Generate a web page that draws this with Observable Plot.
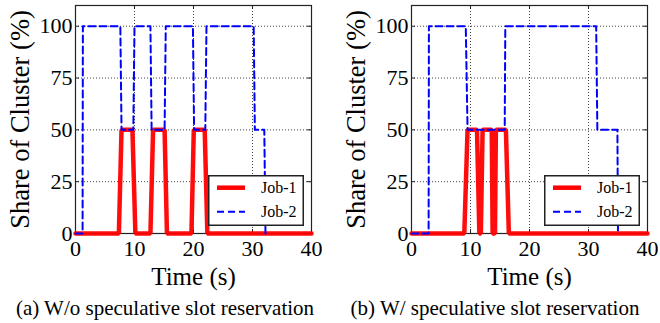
<!DOCTYPE html>
<html>
<head>
<meta charset="utf-8">
<script src="https://cdn.jsdelivr.net/npm/d3@7"></script>
<script src="https://cdn.jsdelivr.net/npm/@observablehq/plot@0.6"></script>
<style>
  html, body { margin: 0; padding: 0; background: #fff; }
  #root { position: relative; width: 660px; height: 323px; overflow: hidden; font-family: "Liberation Serif", "Times New Roman", serif; }
  .panel { position: absolute; top: 0; width: 330px; height: 323px; }
  .panel svg.plot { position: absolute; left: 0; top: 0; }
  .panel svg text { font-family: "Liberation Serif", "Times New Roman", serif; }
  .legend { position: absolute; top: 175px; }
  .caption { position: absolute; left: 0; width: 330px; top: 298px; text-align: center; font-size: 21px; line-height: 21px; color: #000; white-space: nowrap; }
</style>
</head>
<body>
<div id="root"></div>
<script>
// ---------- data ----------
const seriesNames = ["Job-1", "Job-2"];
const seriesColors = ["#ff0000", "#0000ff"];
const xTicks = [0, 10, 20, 30, 40];
const yTicks = [0, 25, 50, 75, 100];
const xGrid = [10, 20, 30];
const yGrid = [25, 50, 75, 100];
const xLabel = "Time (s)";
const yLabel = "Share of Cluster (%)";
const captions = ["(a) W/o speculative slot reservation", "(b) W/ speculative slot reservation"];

// (a) without speculative slot reservation
const aJob1Time  = [0, 7.35, 7.8, 9.65, 10.15, 12.7, 13.15, 15.1, 15.5, 19.65, 20.05, 21.9, 22.35, 40];
const aJob1Share = [0, 0,    50,  50,   0,     0,    50,    50,   0,    0,     50,    50,   0,     0];
const aJob2Time  = [0, 1.2, 1.25, 7.6, 7.8, 9.8, 10.0, 12.7, 12.9, 15.1, 15.3, 19.9, 20.1, 22.0, 22.2, 30.2, 30.4, 32.0, 32.2];
const aJob2Share = [0, 0,   100,  100, 50,  50,  100,  100,  50,   50,   100,  100,  50,   50,   100,  100,  50,   50,   0];

// (b) with speculative slot reservation
const bJob1Time  = [0, 8.95, 9.5, 11.1, 11.5, 11.75, 12.05, 13.6, 13.75, 14.15, 14.3, 16.0, 16.5, 40];
const bJob1Share = [0, 0,    50,  50,   0,    0,     50,    50,   0,     0,     50,   50,   0,    0];
const bJob2Time  = [0, 2.9, 2.95, 9.2, 9.5, 15.8, 15.9, 31.3, 31.5, 34.9, 35.0];
const bJob2Share = [0, 0,   100,  100, 50,  50,   100,  100,  50,   50,   0];

const zipSeries = (t, v) => t.map((x, i) => ({t: x, v: v[i]}));

const panels = [
  {left: 0,   marginLeft: 75, marginRight: 19, legendLeft: 208,
   job1: zipSeries(aJob1Time, aJob1Share), job2: zipSeries(aJob2Time, aJob2Share), caption: captions[0]},
  {left: 330, marginLeft: 81, marginRight: 13, legendLeft: 214,
   job1: zipSeries(bJob1Time, bJob1Share), job2: zipSeries(bJob2Time, bJob2Share), caption: captions[1]}
];

const FONT = "'Liberation Serif', 'Times New Roman', serif";
const W = 330, H = 293, MT = 5, MB = 60;
const root = document.getElementById("root");

for (const p of panels) {
  const frameW = W - p.marginLeft - p.marginRight;
  const frameH = H - MT - MB;
  const tick = 4;
  const chart = Plot.plot({
    width: W, height: H,
    marginLeft: p.marginLeft, marginRight: p.marginRight, marginTop: MT, marginBottom: MB,
    x: {domain: [0, 40], axis: null},
    y: {domain: [0, 110], axis: null},
    style: {fontFamily: FONT, background: "transparent", color: "#000", overflow: "visible"},
    marks: [
      Plot.gridX(xGrid, {stroke: "#000", strokeOpacity: 0.75, strokeDasharray: "1,2", strokeWidth: 1}),
      Plot.gridY(yGrid, {stroke: "#000", strokeOpacity: 0.75, strokeDasharray: "1,2", strokeWidth: 1}),
      Plot.tickX(xGrid, {x: d => d, insetBottom: frameH - tick, stroke: "#222"}),
      Plot.tickX(xGrid, {x: d => d, insetTop: frameH - tick, stroke: "#222"}),
      Plot.tickY(yGrid, {y: d => d, insetRight: frameW - tick, stroke: "#222"}),
      Plot.tickY(yGrid, {y: d => d, insetLeft: frameW - tick, stroke: "#222"}),
      Plot.frame({stroke: "#222", strokeWidth: 1.2}),
      Plot.line(p.job1, {x: "t", y: "v", stroke: seriesColors[0], strokeWidth: 4.5, strokeLinejoin: "miter", strokeOpacity: 0.95}),
      Plot.line(p.job2, {x: "t", y: "v", stroke: seriesColors[1], strokeWidth: 2, strokeDasharray: "7,4"}),
      Plot.axisX(xTicks, {anchor: "bottom", tickSize: 0, tickPadding: 7, fontSize: 22, label: null, fontFamily: FONT}),
      Plot.axisY(yTicks, {anchor: "left", tickSize: 0, tickPadding: 3, fontSize: 22, label: null, fontFamily: FONT}),
      Plot.text([xLabel], {text: d => d, frameAnchor: "bottom", lineAnchor: "middle", dy: 43, fontSize: 25, fontFamily: FONT}),
      Plot.text([yLabel], {text: d => d, frameAnchor: "left", textAnchor: "middle", lineAnchor: "middle", rotate: -90, dx: -55, fontSize: 26.5, fontFamily: FONT})
    ]
  });
  chart.classList.add("plot");

  const panel = document.createElement("div");
  panel.className = "panel";
  panel.style.left = p.left + "px";
  panel.appendChild(chart);

  // legend
  const lg = document.createElement("div");
  lg.className = "legend";
  lg.style.left = p.legendLeft + "px";
  const lw = 96, lh = 51;
  lg.innerHTML = `<svg width="${lw}" height="${lh}" style="display:block">
    <rect x="0.75" y="0.75" width="${lw - 1.5}" height="${lh - 1.5}" fill="#fff" stroke="#222" stroke-width="1.5"/>
    <line x1="9" x2="37" y1="12.7" y2="12.7" stroke="${seriesColors[0]}" stroke-width="4.5"/>
    <text x="53" y="18" font-size="16" fill="#000">${seriesNames[0]}</text>
    <line x1="9" x2="37" y1="36.7" y2="36.7" stroke="${seriesColors[1]}" stroke-width="2" stroke-dasharray="7,4"/>
    <text x="53" y="42" font-size="16" fill="#000">${seriesNames[1]}</text>
  </svg>`;
  panel.appendChild(lg);

  const cap = document.createElement("div");
  cap.className = "caption";
  cap.textContent = p.caption;
  panel.appendChild(cap);

  root.appendChild(panel);
}
</script>
</body>
</html>
